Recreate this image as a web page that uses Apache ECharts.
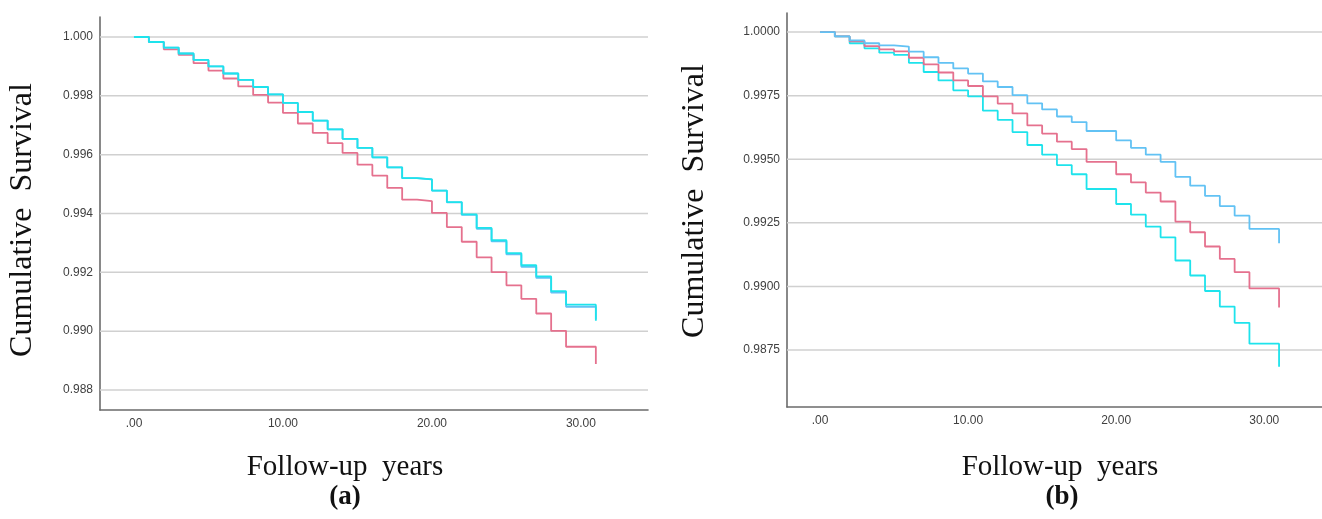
<!DOCTYPE html>
<html>
<head>
<meta charset="utf-8">
<script src="https://cdn.jsdelivr.net/npm/echarts@6/dist/echarts.min.js"></script>
<style>
html,body{margin:0;padding:0;background:#fff;}
#chart{width:1322px;height:519px;}
</style>
</head>
<body>
<div id="chart"></div>
<script>
// ---- data ----
const years = [0,1,2,3,4,5,6,7,8,9,10,11,12,13,14,15,16,17,18,19,20,21,22,23,24,25,26,27,28,29,30,31];

// panel (a)
const aPink = [1.0,0.99983,0.99958,0.99939,0.99911,0.99886,0.99859,0.99832,0.99803,0.99777,0.99742,0.99706,0.99674,0.99639,0.99606,0.99566,0.99529,0.99487,0.99447,0.99442,0.99402,0.99354,0.99304,0.99251,0.99201,0.99156,0.99110,0.99060,0.99001,0.98947,0.98947,0.98888];
const aCyan = [1.0,0.99983,0.99964,0.99944,0.99922,0.99900,0.99876,0.99854,0.99830,0.99805,0.99776,0.99745,0.99716,0.99686,0.99654,0.99623,0.99591,0.99557,0.99520,0.99516,0.99478,0.99439,0.99397,0.99351,0.99309,0.99265,0.99224,0.99186,0.99136,0.99090,0.99090,0.99035];
const aBlue = [1.0,0.99983,0.99964,0.99944,0.99922,0.99900,0.99876,0.99854,0.99830,0.99805,0.99776,0.99745,0.99716,0.99686,0.99654,0.99623,0.99591,0.99557,0.99520,0.99516,0.99478,0.99438,0.99395,0.99348,0.99305,0.99261,0.99219,0.99181,0.99131,0.99083,0.99083,0.99040];

// panel (b)
const bBlue = [1.0,0.99983,0.99967,0.99956,0.99948,0.99943,0.99923,0.99901,0.99879,0.99857,0.99837,0.99806,0.99784,0.99752,0.99720,0.99696,0.99668,0.99646,0.99611,0.99611,0.99574,0.99545,0.99518,0.99490,0.99431,0.99396,0.99356,0.99316,0.99278,0.99226,0.99226,0.99170];
const bPink = [1.0,0.99983,0.99964,0.99945,0.99932,0.99924,0.99899,0.99873,0.99841,0.99810,0.99788,0.99747,0.99719,0.99680,0.99633,0.99601,0.99569,0.99540,0.99490,0.99490,0.99441,0.99409,0.99369,0.99334,0.99255,0.99213,0.99157,0.99108,0.99056,0.98992,0.98992,0.98917];
const bCyan = [1.0,0.99983,0.99956,0.99936,0.99919,0.99910,0.99879,0.99843,0.99810,0.99771,0.99747,0.99691,0.99655,0.99607,0.99556,0.99518,0.99477,0.99441,0.99383,0.99383,0.99324,0.99282,0.99235,0.99193,0.99102,0.99043,0.98982,0.98921,0.98857,0.98775,0.98775,0.98684];

// ticks
const xTickValues = [0,10,20,30];
const xTickLabels = ['.00','10.00','20.00','30.00'];
const aYTickValues = [0.988,0.990,0.992,0.994,0.996,0.998,1.000];
const aYTickLabels = ['0.988','0.990','0.992','0.994','0.996','0.998','1.000'];
const bYTickValues = [0.9875,0.9900,0.9925,0.9950,0.9975,1.0000];
const bYTickLabels = ['0.9875','0.9900','0.9925','0.9950','0.9975','1.0000'];

// axis ranges
const aXRange = [-2.28, 34.5], bXRange = [-2.23, 33.9];
const aYRange = [0.98732, 1.00068], bYRange = [0.98526, 1.00075];

// ---- chart ----
const pairs = (ys) => years.map((t,i) => [t, ys[i]]);
const labelFor = (vals, labs) => (v) => {
  for (let i = 0; i < vals.length; i++) if (Math.abs(vals[i]-v) < 1e-9) return labs[i];
  return '';
};
const C_PINK = '#E5718E', C_CYAN = '#1EE3EC', C_BLUE = '#62C2F4';
const AXIS_COLOR = '#6b6b6b', GRID_COLOR = '#d0d0d0';
const tickFont = {fontFamily:'Liberation Sans, Arial, sans-serif', fontSize:12, color:'#404040'};

function xAxisDef(gi, r){
  return {
    type:'value', gridIndex:gi, min:r[0], max:r[1],
    axisLine:{show:true, lineStyle:{color:AXIS_COLOR, width:1.6}},
    axisTick:{show:false}, splitLine:{show:false},
    axisLabel:Object.assign({customValues:xTickValues, margin:8, formatter:labelFor(xTickValues, xTickLabels)}, tickFont)
  };
}
function yAxisDef(gi, r, vals, labs){
  return {
    type:'value', gridIndex:gi, min:r[0], max:r[1],
    axisLine:{show:true, onZero:false, lineStyle:{color:AXIS_COLOR, width:1.6}},
    axisTick:{show:false}, splitLine:{show:false},
    axisLabel:Object.assign({customValues:vals, margin:7, formatter:labelFor(vals, labs)}, tickFont)
  };
}
function gridLines(gi, vals, xr){
  return vals.map(v => ({
    type:'line', xAxisIndex:gi, yAxisIndex:gi, z:1, silent:true,
    data:[[xr[0], v],[xr[1], v]], showSymbol:false, symbol:'none',
    lineStyle:{color:GRID_COLOR, width:1.5}
  }));
}
function stepSeries(gi, ys, color, z){
  return {
    type:'line', xAxisIndex:gi, yAxisIndex:gi, step:'end', data:pairs(ys), z:z,
    showSymbol:false, symbol:'none', silent:true,
    lineStyle:{color:color, width:1.8}
  };
}

const serif = 'Liberation Serif, Times New Roman, serif';
const option = {
  animation:false,
  backgroundColor:'#fff',
  grid:[
    {left:100, top:17, width:548, height:393, outerBoundsMode:'none', containLabel:false},
    {left:787, top:13, width:535, height:394, outerBoundsMode:'none', containLabel:false}
  ],
  xAxis:[ xAxisDef(0, aXRange), xAxisDef(1, bXRange) ],
  yAxis:[ yAxisDef(0, aYRange, aYTickValues, aYTickLabels),
          yAxisDef(1, bYRange, bYTickValues, bYTickLabels) ],
  series:[].concat(
    gridLines(0, aYTickValues, aXRange),
    [stepSeries(0, aPink, C_PINK, 3),
     stepSeries(0, aBlue, C_BLUE, 4),
     stepSeries(0, aCyan, C_CYAN, 5)],
    gridLines(1, bYTickValues, bXRange),
    [stepSeries(1, bCyan, C_CYAN, 3),
     stepSeries(1, bPink, C_PINK, 4),
     stepSeries(1, bBlue, C_BLUE, 5)]
  ),
  graphic:[
    {type:'text', x:23, y:220, rotation:Math.PI/2, style:{text:'Cumulative  Survival', font:'32px '+serif, fill:'#111', textAlign:'center', textVerticalAlign:'middle'}},
    {type:'text', x:695, y:201, rotation:Math.PI/2, style:{text:'Cumulative  Survival', font:'32px '+serif, fill:'#111', textAlign:'center', textVerticalAlign:'middle'}},
    {type:'text', x:345, y:467, style:{text:'Follow-up  years', font:'29px '+serif, fill:'#111', textAlign:'center', textVerticalAlign:'middle'}},
    {type:'text', x:1060, y:467, style:{text:'Follow-up  years', font:'29px '+serif, fill:'#111', textAlign:'center', textVerticalAlign:'middle'}},
    {type:'text', x:345, y:497, style:{text:'(a)', font:'bold 27px '+serif, fill:'#111', textAlign:'center', textVerticalAlign:'middle'}},
    {type:'text', x:1062, y:497, style:{text:'(b)', font:'bold 27px '+serif, fill:'#111', textAlign:'center', textVerticalAlign:'middle'}}
  ]
};
const chart = echarts.init(document.getElementById('chart'), null, {renderer:'canvas'});
chart.setOption(option);
</script>
</body>
</html>
